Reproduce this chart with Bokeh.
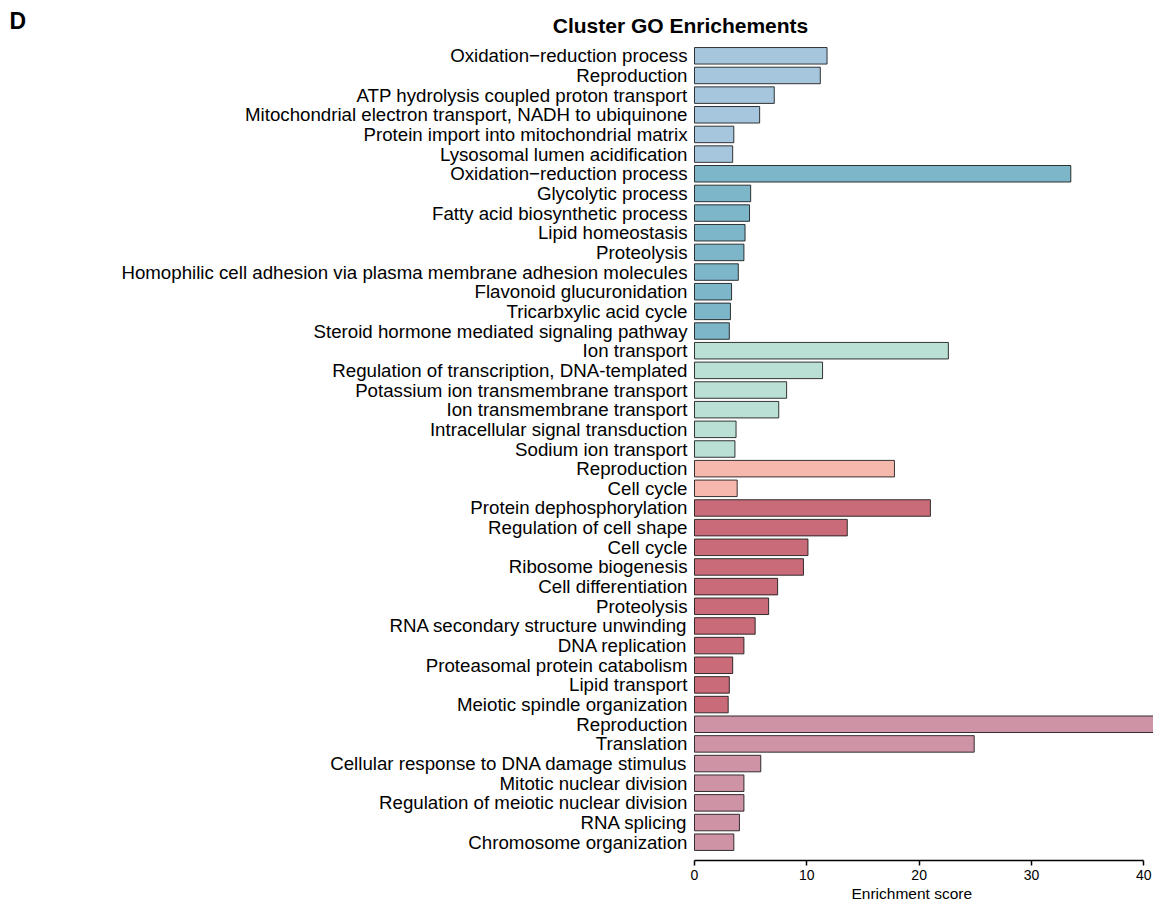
from bokeh.plotting import figure
from bokeh.models import ColumnDataSource, Range1d, FixedTicker, Label, Title
from bokeh.core.properties import value
from bokeh.embed import file_html
from bokeh.resources import INLINE

terms = [
    "Oxidation\u2212reduction process", "Reproduction", "ATP hydrolysis coupled proton transport",
    "Mitochondrial electron transport, NADH to ubiquinone", "Protein import into mitochondrial matrix",
    "Lysosomal lumen acidification",
    "Oxidation\u2212reduction process", "Glycolytic process", "Fatty acid biosynthetic process",
    "Lipid homeostasis", "Proteolysis", "Homophilic cell adhesion via plasma membrane adhesion molecules",
    "Flavonoid glucuronidation", "Tricarbxylic acid cycle", "Steroid hormone mediated signaling pathway",
    "Ion transport", "Regulation of transcription, DNA-templated", "Potassium ion transmembrane transport",
    "Ion transmembrane transport", "Intracellular signal transduction", "Sodium ion transport",
    "Reproduction", "Cell cycle",
    "Protein dephosphorylation", "Regulation of cell shape", "Cell cycle", "Ribosome biogenesis",
    "Cell differentiation", "Proteolysis", "RNA secondary structure unwinding", "DNA replication",
    "Proteasomal protein catabolism", "Lipid transport", "Meiotic spindle organization",
    "Reproduction", "Translation", "Cellular response to DNA damage stimulus", "Mitotic nuclear division",
    "Regulation of meiotic nuclear division", "RNA splicing", "Chromosome organization",
]
scores = [
    11.8, 11.2, 7.1, 5.8, 3.5, 3.4,
    33.5, 5.0, 4.9, 4.5, 4.4, 3.9, 3.3, 3.2, 3.1,
    22.6, 11.4, 8.2, 7.5, 3.7, 3.6,
    17.8, 3.8,
    21.0, 13.6, 10.1, 9.7, 7.4, 6.6, 5.4, 4.4, 3.4, 3.1, 3.0,
    45.0, 24.9, 5.9, 4.4, 4.4, 4.0, 3.5,
]
cluster_sizes = [6, 9, 6, 2, 11, 7]
cluster_colors = ["#a6c6de", "#7db5c9", "#badfd4", "#f6b8ad", "#c96b78", "#cf93a6"]
x_ticks = [0, 10, 20, 30, 40]

title_text = "Cluster GO Enrichements"
panel_tag = "D"
x_label = "Enrichment score"

FONT = "Liberation Sans"
W, H = 1153, 901
X0 = 694          # pixel where score 0 sits
PX_X = 11.233     # pixels per score unit
ROW0 = 55.3       # pixel centre of first row
PX_Y = 19.66      # pixels per row
FRAME_B = 860     # actual frame bottom

colors = []
for c, n in zip(cluster_colors, cluster_sizes):
    colors += [c] * n
ypos = list(range(len(terms)))
src = ColumnDataSource(dict(y=ypos, score=scores, color=colors, term=terms))

y_top = -ROW0 / PX_Y
y_bot = (FRAME_B - ROW0) / PX_Y

p = figure(width=W, height=H, output_backend="svg", toolbar_location=None,
           x_range=Range1d(-X0 / PX_X, (W - X0) / PX_X), y_range=Range1d(y_bot, y_top),
           min_border_left=0, min_border_right=0, min_border_top=0, min_border_bottom=0)
p.outline_line_color = None
p.grid.visible = False
p.background_fill_color = "white"
p.border_fill_color = "white"
p.yaxis.visible = False

p.hbar(y="y", left=0, right="score", height=0.84, fill_color="color",
       line_color="#141414", line_alpha=0.85, line_width=1, source=src)

# category labels
p.text(x=-7 / PX_X, y="y", text="term", source=src, text_font=value(FONT),
       text_font_size="18.7px", text_align="right", text_baseline="middle", text_color="black")

xax = p.xaxis[0]
xax.ticker = FixedTicker(ticks=x_ticks)
xax.bounds = (0, 40)
xax.axis_line_width = 1.5
xax.axis_line_color = "black"
xax.major_tick_line_width = 1.5
xax.major_tick_line_color = "black"
xax.major_tick_out = 5
xax.major_tick_in = 0
xax.minor_tick_line_color = None
xax.major_label_standoff = 4
xax.major_label_text_font = FONT
xax.major_label_text_font_size = "14px"
xax.major_label_text_color = "black"

p.add_layout(Title(text=x_label, align="left", offset=851, standoff=0,
                   text_font=FONT, text_font_size="15.5px", text_font_style="normal",
                   text_color="black", vertical_align="bottom"), "below")

p.add_layout(Label(x=680, y=y_top + 24.7 / PX_Y, x_units="screen", y_units="data",
                   text=title_text, text_font=FONT, text_font_size="21px", text_font_style="bold",
                   text_align="center", text_baseline="middle", text_color="black"))
p.add_layout(Label(x=9, y=y_top + 20 / PX_Y, x_units="screen", y_units="data",
                   text=panel_tag, text_font=FONT, text_font_size="23px", text_font_style="bold",
                   text_align="left", text_baseline="middle", text_color="black"))

open("out.html", "w").write(file_html(p, INLINE))
